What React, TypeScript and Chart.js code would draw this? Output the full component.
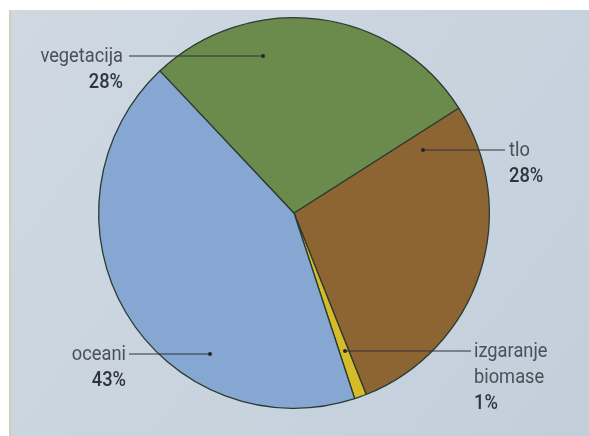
import React, { useEffect, useRef } from "react";
import { Chart, registerables } from "chart.js";

Chart.register(...registerables);

const categories = ["tlo", "izgaranje biomase", "oceani", "vegetacija"];
const values = [28, 1, 43, 28];
const percentLabels = ["28%", "1%", "43%", "28%"];
const nameLines = [["tlo"], ["izgaranje", "biomase"], ["oceani"], ["vegetacija"]];
const sliceColors = ["#8d6532", "#d6bd27", "#86a7d2", "#6a8b4b"];

// annotation layout (dot, line end, text anchor, alignment)
const labelLayout = [
  { dot: [423, 150], end: [505, 150], tx: 509, align: "left" },
  { dot: [345, 351], end: [471, 351], tx: 474, align: "left" },
  { dot: [210, 354], end: [129, 354], tx: 126, align: "right" },
  { dot: [263, 56], end: [129, 56], tx: 123, align: "right" },
];

const FONT = "Roboto, 'DejaVu Sans Condensed', sans-serif";
const SX = 0.87;

const bgPlugin = {
  id: "paperBg",
  beforeDraw(chart: any) {
    const { ctx, width, height } = chart;
    ctx.save();
    ctx.fillStyle = "#ffffff";
    ctx.fillRect(0, 0, width, height);
    const g = ctx.createLinearGradient(0, 0, width, height);
    g.addColorStop(0, "#d0d9e2");
    g.addColorStop(1, "#c2cfdb");
    ctx.fillStyle = g;
    ctx.fillRect(10, 10, width - 10, height - 10);
    ctx.fillStyle = "#c9d2b8";
    ctx.fillRect(9, 10, 2, height - 10);
    ctx.restore();
  },
};

function drawText(ctx: any, text: string, x: number, y: number, align: string) {
  ctx.save();
  ctx.translate(x, y);
  ctx.scale(SX, 1);
  ctx.textAlign = align;
  ctx.textBaseline = "middle";
  ctx.fillText(text, 0, 0);
  ctx.restore();
}

const labelPlugin = {
  id: "leaderLabels",
  afterDraw(chart: any) {
    const { ctx } = chart;
    ctx.save();
    labelLayout.forEach((l, i) => {
      ctx.strokeStyle = "#2e3338";
      ctx.lineWidth = 1.2;
      ctx.beginPath();
      ctx.moveTo(l.dot[0], l.dot[1]);
      ctx.lineTo(l.end[0], l.end[1]);
      ctx.stroke();
      ctx.fillStyle = "#23282c";
      ctx.beginPath();
      ctx.arc(l.dot[0], l.dot[1], 2, 0, Math.PI * 2);
      ctx.fill();
      const lines = nameLines[i];
      let y = l.end[1] + 1;
      ctx.font = `21px ${FONT}`;
      ctx.fillStyle = "#4a5058";
      lines.forEach((t) => {
        drawText(ctx, t, l.tx, y, l.align);
        y += 26;
      });
      ctx.font = `500 21px ${FONT}`;
      ctx.fillStyle = "#2f353c";
      drawText(ctx, percentLabels[i], l.tx, y, l.align);
    });
    ctx.restore();
  },
};

export default function App() {
  const ref = useRef<HTMLCanvasElement | null>(null);
  useEffect(() => {
    document.body.style.margin = "0";
    const chart = new Chart(ref.current as HTMLCanvasElement, {
      type: "pie",
      data: {
        labels: categories,
        datasets: [
          {
            data: values,
            backgroundColor: sliceColors,
            borderColor: "#2d3a33",
            borderWidth: 1.3,
          },
        ],
      },
      options: {
        animation: false,
        responsive: false,
        rotation: 57.5,
        layout: { padding: { left: 97, right: 98, top: 17, bottom: 27 } },
        plugins: { legend: { display: false }, tooltip: { enabled: false } },
      },
      plugins: [bgPlugin, labelPlugin],
    } as any);
    return () => chart.destroy();
  }, []);
  return (
    <div style={{ width: 589, height: 436 }}>
      <canvas ref={ref} width={589} height={436} />
    </div>
  );
}
